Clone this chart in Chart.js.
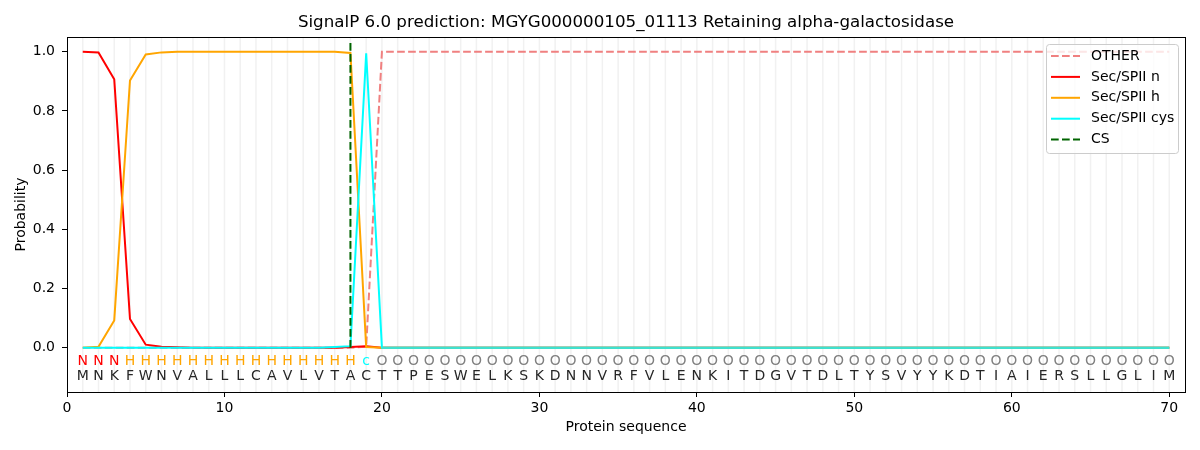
<!DOCTYPE html>
<html><head><meta charset="utf-8">
<script src="https://cdn.jsdelivr.net/npm/chart.js@4.4.0/dist/chart.umd.min.js"></script>
<style>html,body{margin:0;padding:0;background:#fff}</style>
</head><body>
<canvas id="c" width="1200" height="450"></canvas>
<script>
const titleText = "SignalP 6.0 prediction: MGYG000000105_01113 Retaining alpha-galactosidase";
const sequence = ["M","N","K","F","W","N","V","A","L","L","L","C","A","V","L","V","T","A","C","T",
  "T","P","E","S","W","E","L","K","S","K","D","N","N","V","R","F","V","L","E","N",
  "K","I","T","D","G","V","T","D","L","T","Y","S","V","Y","Y","K","D","T","I","A",
  "I","E","R","S","L","L","G","L","I","M"];
const regionLabels = ["N","N","N","H","H","H","H","H","H","H","H","H","H","H","H","H","H","H","c","O",
  "O","O","O","O","O","O","O","O","O","O","O","O","O","O","O","O","O","O","O","O",
  "O","O","O","O","O","O","O","O","O","O","O","O","O","O","O","O","O","O","O","O",
  "O","O","O","O","O","O","O","O","O","O"];
const otherVals = [0,0,0,0,0,0,0,0,0,0,0,0,0,0,0,0,0,0,0.003,1.0,
  1,1,1,1,1,1,1,1,1,1,1,1,1,1,1,1,1,1,1,1,
  1,1,1,1,1,1,1,1,1,1,1,1,1,1,1,1,1,1,1,1,
  1,1,1,1,1,1,1,1,1,1];
const nVals = [1.0,0.998,0.907,0.097,0.01,0.003,0.001,0,0,0,0,0,0,0,0,0,0,0.002,0.005,0,
  0,0,0,0,0,0,0,0,0,0,0,0,0,0,0,0,0,0,0,0,
  0,0,0,0,0,0,0,0,0,0,0,0,0,0,0,0,0,0,0,0,
  0,0,0,0,0,0,0,0,0,0];
const hVals = [0,0.003,0.092,0.903,0.991,0.998,1,1,1,1,1,1,1,1,1,1,1,0.996,0.002,0,
  0,0,0,0,0,0,0,0,0,0,0,0,0,0,0,0,0,0,0,0,
  0,0,0,0,0,0,0,0,0,0,0,0,0,0,0,0,0,0,0,0,
  0,0,0,0,0,0,0,0,0,0];
const cysVals = [0,0,0,0,0,0,0,0,0,0,0,0,0,0,0,0,0.002,0.005,0.995,0,
  0,0,0,0,0,0,0,0,0,0,0,0,0,0,0,0,0,0,0,0,
  0,0,0,0,0,0,0,0,0,0,0,0,0,0,0,0,0,0,0,0,
  0,0,0,0,0,0,0,0,0,0];
const baseVals = [null,null,null,null,null,null,null,null,null,null,null,null,null,null,null,null,null,null,null,0,
  0,0,0,0,0,0,0,0,0,0,0,0,0,0,0,0,0,0,0,0,
  0,0,0,0,0,0,0,0,0,0,0,0,0,0,0,0,0,0,0,0,
  0,0,0,0,0,0,0,0,0,0];
const csPosition = 18;
const csRange = [0, 1.04];
const xTicks = [0,10,20,30,40,50,60,70];
const yTicks = [0,0.2,0.4,0.6,0.8,1.0];

const labelColors = {N:"#ff0000", H:"#ffa500", c:"#00ffff", O:"#808080"};
const FONT = "'DejaVu Sans', sans-serif";

function pts(vals){ return vals.map((v,i)=>({x:i+1,y:v})); }

const datasets = [
  {label:"OTHER", data:pts(otherVals), borderColor:"#f08080", borderDash:[7.7,3.3], order:6},
  {label:"Sec/SPII n", data:pts(nVals), borderColor:"#ff0000", order:5},
  {label:"Sec/SPII h", data:pts(hVals), borderColor:"#ffa500", order:4},
  {label:"Sec/SPII cys", data:pts(cysVals), borderColor:"#00ffff", order:3},
  {label:"_base", data:pts(baseVals), borderColor:"#40e0d0", order:2},
  {label:"CS", data:[{x:csPosition,y:csRange[0]},{x:csPosition,y:csRange[1]}], borderColor:"#006400", borderDash:[7.7,3.3], order:1}
];
datasets.forEach(d=>{ d.borderWidth=2; d.pointRadius=0; d.fill=false; d.tension=0; d.spanGaps=false; });

const decor = {
  id:"decor",
  beforeDatasetsDraw(chart){
    const {ctx, chartArea:a, scales:{x}} = chart;
    ctx.save();
    ctx.strokeStyle = "#f1f1f1"; ctx.lineWidth = 1.5;
    for(let i=1;i<=sequence.length;i++){
      const px = x.getPixelForValue(i);
      ctx.beginPath(); ctx.moveTo(px,a.top); ctx.lineTo(px,a.bottom); ctx.stroke();
    }
    ctx.restore();
  },
  afterDatasetsDraw(chart){
    const {ctx, chartArea:a, scales:{x,y}} = chart;
    ctx.save();
    ctx.font = "14px " + FONT; ctx.textAlign="center"; ctx.textBaseline="middle";
    const y1 = y.getPixelForValue(-0.047), y2 = y.getPixelForValue(-0.098);
    for(let i=0;i<sequence.length;i++){
      const px = x.getPixelForValue(i+1);
      ctx.fillStyle = labelColors[regionLabels[i]];
      ctx.fillText(regionLabels[i], px, y1);
      ctx.fillStyle = "#262626";
      ctx.fillText(sequence[i], px, y2);
    }
    // frame
    ctx.strokeStyle="#000"; ctx.lineWidth=1;
    ctx.strokeRect(Math.round(a.left)+0.5, Math.round(a.top)+0.5, Math.round(a.right-a.left), Math.round(a.bottom-a.top));
    // title
    ctx.fillStyle="#000"; ctx.font="16.7px "+FONT; ctx.textBaseline="middle";
    ctx.fillText(titleText, (a.left+a.right)/2, 23);
    // legend
    const lx=1046, ly=44, lw=132, lh=109;
    ctx.beginPath();
    ctx.roundRect(lx+0.5,ly+0.5,lw,lh,3);
    ctx.fillStyle="rgba(255,255,255,0.8)"; ctx.fill();
    ctx.strokeStyle="#cccccc"; ctx.lineWidth=1; ctx.stroke();
    const shown = chart.data.datasets.filter(d=>!d.label.startsWith("_"));
    ctx.font="14px "+FONT; ctx.textAlign="left"; ctx.textBaseline="middle";
    shown.forEach((d,i)=>{
      const ry = 56 + i*20.9;
      ctx.beginPath(); ctx.setLineDash(d.borderDash||[]);
      ctx.strokeStyle=d.borderColor; ctx.lineWidth=2;
      ctx.moveTo(1051,ry); ctx.lineTo(1080,ry); ctx.stroke();
      ctx.setLineDash([]);
      ctx.fillStyle="#000"; ctx.fillText(d.label, 1091, ry);
    });
    ctx.restore();
  }
};

new Chart(document.getElementById("c"), {
  type:"line",
  data:{datasets},
  options:{
    responsive:false, animation:false, devicePixelRatio:1,
    layout:{padding:{left:0,right:15,top:37,bottom:0}},
    plugins:{legend:{display:false}, title:{display:false}, tooltip:{enabled:false}},
    scales:{
      x:{type:"linear", min:0, max:71,
        afterBuildTicks(s){ s.ticks = xTicks.map(v=>({value:v})); },
        afterFit(s){ s.height = 58; },
        grid:{drawOnChartArea:false, drawTicks:true, tickLength:5, tickColor:"#000"},
        border:{color:"#000", width:1},
        ticks:{color:"#000", font:{family:FONT,size:14}, padding:3, maxRotation:0, autoSkip:false},
        title:{display:true, text:"Protein sequence", color:"#000", font:{family:FONT,size:14}, padding:{top:0,bottom:14}}
      },
      y:{type:"linear", min:-0.15, max:1.05,
        afterBuildTicks(s){ s.ticks = yTicks.map(v=>({value:v})); },
        afterFit(s){ s.width = 67; },
        grid:{drawOnChartArea:false, drawTicks:true, tickLength:5, tickColor:"#000"},
        border:{color:"#000", width:1},
        ticks:{color:"#000", font:{family:FONT,size:14}, padding:7, callback:v=>v.toFixed(1)},
        title:{display:true, text:"Probability", color:"#000", font:{family:FONT,size:14}, padding:{top:13,bottom:0}}
      }
    }
  },
  plugins:[decor]
});
</script>
</body></html>
